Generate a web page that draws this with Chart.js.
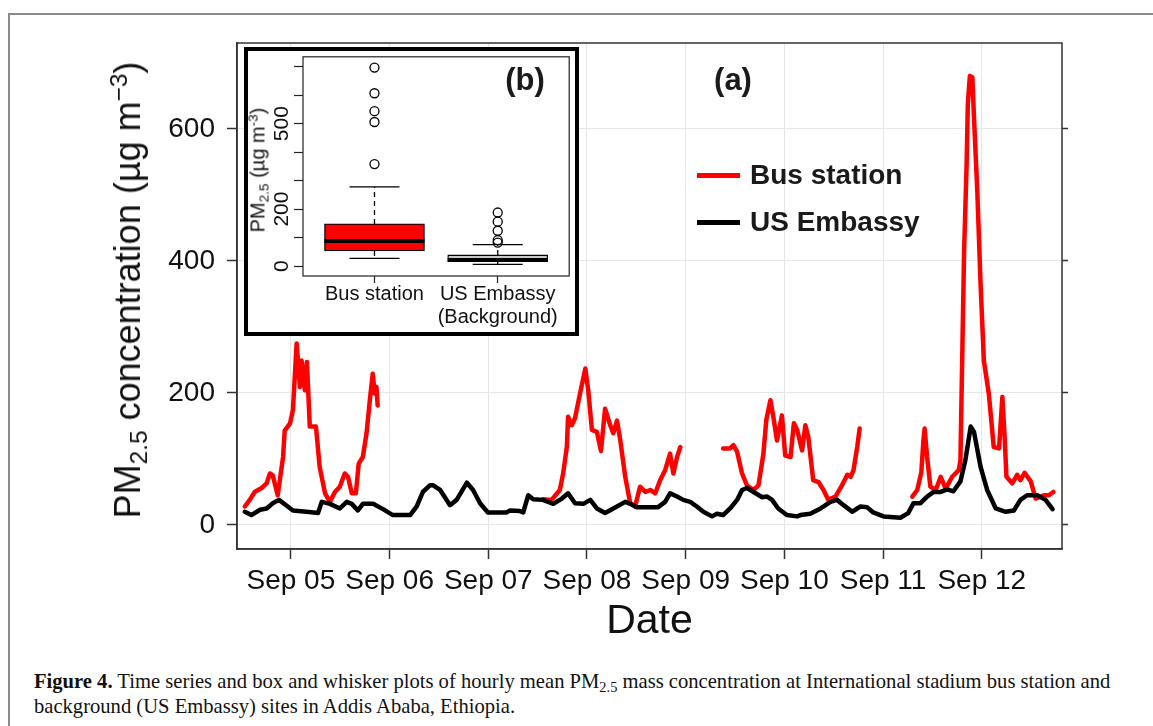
<!DOCTYPE html>
<html>
<head>
<meta charset="utf-8">
<script src="https://cdn.jsdelivr.net/npm/chart.js@4.4.0/dist/chart.umd.min.js"></script>
<style>
  html, body { margin: 0; padding: 0; background: #fff; }
  body { width: 1153px; height: 726px; position: relative; overflow: hidden; font-family: "Liberation Sans", Arial, sans-serif; color: #111; }
  .frame { position: absolute; left: 8px; top: 13px; width: 1300px; height: 900px; border-left: 2px solid #8a8a8a; border-top: 2px solid #8a8a8a; }
  #main { position: absolute; left: 0; top: 0; }
  .rot { position: absolute; transform: translate(-50%, -50%) rotate(-90deg); white-space: nowrap; }
  .sub { font-size: 0.68em; position: relative; top: 0.28em; }
  .sup { font-size: 0.68em; position: relative; top: -0.55em; }
  .tag { position: absolute; transform: translate(-50%, -50%); font-weight: bold; font-size: 31px; color: #1a1a1a; }
  .leg { position: absolute; left: 697px; height: 30px; display: flex; align-items: center; font-weight: bold; font-size: 28px; color: #1a1a1a; }
  .leg i { display: inline-block; width: 43px; height: 5px; margin-right: 10px; }
  .inset { position: absolute; left: 244px; top: 47px; width: 335px; height: 289px; box-sizing: border-box; border: 4px solid #000; background: #fff; }
  .cap { position: absolute; left: 34px; top: 670px; font-family: "Liberation Serif", "Times New Roman", serif; font-size: 20.6px; line-height: 23px; color: #111; white-space: nowrap; }
  .cap .sub { font-size: 0.7em; top: 0.3em; }
</style>
</head>
<body>
<div class="frame"></div>
<canvas id="main" width="1153" height="660"></canvas>

<div class="rot" style="left:128px; top:290px; font-size:36px;">PM<span class="sub">2.5</span> concentration (µg m<span class="sup">−3</span>)</div>

<div class="tag" style="left:733px; top:80px;">(a)</div>
<div class="leg" style="top:160px;"><i style="background:#ff0000"></i>Bus station</div>
<div class="leg" style="top:207px;"><i style="background:#000"></i>US Embassy</div>

<div class="inset"><canvas id="inset" width="327" height="281"></canvas></div>
<div class="rot" style="left:258px; top:170px; font-size:20px;">PM<span class="sub">2.5</span> (µg m<span class="sup">-3</span>)</div>
<div class="tag" style="left:525px; top:80px;">(b)</div>

<div class="cap"><b>Figure 4.</b> Time series and box and whisker plots of hourly mean PM<span class="sub">2.5</span> mass concentration at International stadium bus station and<br>background (US Embassy) sites in Addis Ababa, Ethiopia.</div>

<script>
// hours counted from Sep 05 00:00
const dayTicks = [0, 24, 48, 72, 96, 120, 144, 168];
const dayLabels = ["Sep 05", "Sep 06", "Sep 07", "Sep 08", "Sep 09", "Sep 10", "Sep 11", "Sep 12"];
const yTicks = [0, 200, 400, 600];

// bus station (null = missing hours)
const busHours = [
  -11.2, -10.0, -8.8, -7.1, -5.9, -5.1, -4.4, -3.2, -1.9, -1.5, -0.2, 0.5, 1.4, 2.2, 2.6, 3.4, 3.9, 4.6, 6.1, 7.0,
  8.3, 9.5, 10.7, 11.9, 13.1, 13.9, 14.8, 15.8, 16.5, 17.5, 18.4, 19.2, 19.9, 20.4, 20.8, 21.1, 21.6,
  61.3, 63.4, 65.4, 66.2, 67.1, 67.4, 68.3, 69.1, 70.3, 71.6, 72.3, 73.2, 74.4, 75.4, 76.4, 77.6, 78.4, 79.3, 80.1,
  81.3, 82.5, 83.7, 84.9, 86.2, 87.4, 88.6, 89.8, 91.0, 92.2, 93.0, 93.9, 94.7, 95.2,
  105.1, 106.8, 107.6, 108.5, 109.7, 110.9, 112.5, 113.7, 114.9, 115.6, 116.6, 117.3, 118.2, 119.4, 120.2,
  121.5, 122.3, 123.1, 124.3, 125.1, 125.8, 127.0, 128.3, 129.5, 130.7, 132.4, 134.0, 135.3, 136.1, 136.8, 137.7, 138.3, 138.8,
  151.1, 152.3, 153.3, 153.8, 154.1, 154.7, 155.5, 156.8, 158.0, 159.2, 160.8, 162.4, 162.8, 163.3, 163.7,
  164.3, 164.6, 165.1, 165.7, 166.1, 166.9, 167.7, 168.5, 169.7, 170.9, 172.2, 173.0, 173.5, 174.0, 175.4,
  176.6, 177.4, 178.4, 179.9, 181.1, 183.1, 184.3, 185.4
];
const busValues = [
  28, 38, 50, 56, 63, 78, 75, 45, 103, 143, 154, 174, 275, 209, 249, 204, 247, 149, 149, 88,
  48, 35, 50, 58, 78, 73, 48, 48, 93, 103, 139, 189, 229, 199, 209, 181, null,
  39, 38, 53, 78, 118, 164, 151, 162, 199, 237, 204, 144, 141, 112, 176, 152, 139, 158, 128,
  73, 33, 28, 58, 50, 53, 48, 68, 83, 108, 78, 103, 118, null,
  116, 116, 121, 111, 78, 60, 53, 60, 108, 159, 189, 164, 128, 166, 105,
  103, 154, 144, 113, 151, 134, 68, 65, 53, 38, 43, 60, 76, 73, 83, 118, 146, null,
  43, 53, 80, 128, 146, 103, 58, 53, 73, 55, 73, 83, 98, 275, 416,
  544, 637, 680, 678, 617, 506, 365, 249, 199, 118, 116, 194, 139, 73, 63,
  76, 68, 79, 66, 40, 45, 45, 50
];

// US Embassy
const embHours = [
  -11.2, -9.6, -7.5, -5.9, -4.4, -2.9, -1.0, 0.5, 3.8, 6.6, 7.5, 9.5, 11.9, 13.6, 14.8, 16.3, 17.5, 20.0, 22.4, 24.8,
  29.0, 30.6, 32.1, 33.8, 34.6, 36.3, 38.7, 40.3, 42.8, 44.3, 46.0, 47.9, 52.5, 53.3, 55.7, 56.5, 57.7, 58.9, 61.3, 63.8,
  65.9, 67.4, 69.1, 71.1, 72.8, 74.4, 76.4, 78.4, 81.3, 82.5, 84.1, 89.3, 91.0, 92.2, 93.9, 95.4, 97.1, 98.7, 100.3, 102.4,
  103.6, 105.1, 106.8, 108.5, 109.7, 110.9, 112.5, 114.6, 115.8, 117.0, 118.5, 120.6, 123.1, 123.9, 126.3,
  128.8, 131.2, 132.8, 134.4, 136.5, 138.5, 140.1, 141.6, 144.1, 148.2, 150.1, 151.4, 153.1, 154.7, 156.3,
  158.0, 159.6, 161.1, 162.8, 164.0, 165.3, 166.1, 167.7, 169.3, 171.4, 173.8, 175.8, 177.4, 179.0, 181.5, 183.5, 185.2
];
const embValues = [
  20, 15, 23, 25, 33, 38, 29, 22, 20, 18, 35, 32, 25, 35, 32, 22, 32, 32, 24, 15,
  15, 28, 50, 60, 60, 53, 30, 38, 64, 53, 33, 19, 19, 22, 21, 19, 45, 39, 38, 32,
  40, 48, 33, 32, 38, 25, 18, 25, 35, 32, 27, 27, 35, 48, 43, 38, 35, 28, 20, 13,
  17, 15, 25, 38, 53, 56, 50, 42, 43, 38, 25, 15, 13, 15, 17,
  25, 35, 38, 30, 20, 28, 27, 19, 13, 11, 18, 33, 33, 43, 50,
  50, 54, 51, 66, 98, 149, 141, 88, 53, 25, 20, 22, 38, 45, 45, 38, 24
];

// inset box plot (b)
const boxPos = [1, 2];
const boxLabels = ["Bus station", ["US Embassy", "(Background)"]];
const boxLower = [27, 6];
const boxQ1 = [53, 15];
const boxMedian = [88, 21];
const boxQ3 = [148, 39];
const boxUpper = [278, 75];
const busOutliers = [697, 607, 544, 506, 358];
const embOutliers = [188, 156, 124, 91, 82];
const insetTicks = [0, 100, 200, 300, 400, 500, 600, 700];
const insetTickLabels = [0, 200, 500];

const frameBox = {
  id: "frameBox",
  afterDraw(chart, args, opts) {
    const a = chart.chartArea, ctx = chart.ctx;
    ctx.save();
    ctx.strokeStyle = opts.color || "#333";
    ctx.lineWidth = opts.width || 1.5;
    ctx.strokeRect(a.left, a.top, a.right - a.left, a.bottom - a.top);
    ctx.restore();
  }
};

// fixed axis sizes so the plot areas land where the figure has them
const fixSize = (w, h) => (s) => {
  if (w != null) s.width = w;
  if (h != null) s.height = h;
  s.paddingLeft = s.paddingRight = s.paddingTop = s.paddingBottom = 0;
};

const series = (hs, vs) => hs.map((h, i) => ({ x: h, y: vs[i] }));

new Chart(document.getElementById("main"), {
  type: "line",
  data: {
    datasets: [
      {
        label: "US Embassy",
        data: series(embHours, embValues),
        borderColor: "#000",
        borderWidth: 4.5,
        pointRadius: 0,
        borderJoinStyle: "round",
        borderCapStyle: "round",
        order: 1,
      },
      {
        label: "Bus station",
        data: series(busHours, busValues),
        borderColor: "#ff0000",
        borderWidth: 4.5,
        pointRadius: 0,
        borderJoinStyle: "round",
        borderCapStyle: "round",
        spanGaps: false,
        order: 2,
      },
    ],
  },
  options: {
    responsive: false,
    animation: false,
    events: [],
    layout: { padding: { left: 0, top: 43, right: 81, bottom: 0 } },
    plugins: { legend: { display: false }, tooltip: { enabled: false }, frameBox: { color: "#333", width: 1.5 } },
    scales: {
      x: {
        type: "linear",
        min: -13.1,
        max: 187.5,
        afterBuildTicks: (s) => { s.ticks = dayTicks.map((v) => ({ value: v })); },
        afterFit: fixSize(null, 111),
        ticks: {
          callback: (v, i) => dayLabels[i],
          font: { size: 28, family: "Liberation Sans" },
          color: "#111",
          padding: 5,
          maxRotation: 0,
          autoSkip: false,
        },
        grid: { color: "#e6e6e6", lineWidth: 1, tickColor: "#333", tickLength: 10, tickWidth: 1.5 },
        border: { color: "#333", width: 1.5 },
        title: { display: true, text: "Date", font: { size: 41, family: "Liberation Sans" }, color: "#111", padding: { top: 0, bottom: 14 } },
      },
      y: {
        min: -36.4,
        max: 730,
        afterBuildTicks: (s) => { s.ticks = yTicks.map((v) => ({ value: v })); },
        afterFit: fixSize(237, null),
        ticks: { font: { size: 28, family: "Liberation Sans" }, color: "#111", padding: 12 },
        grid: { color: "#e6e6e6", lineWidth: 1, tickColor: "#333", tickLength: 10, tickWidth: 1.5 },
        border: { color: "#333", width: 1.5 },
      },
      yR: {
        position: "right",
        min: -36.4,
        max: 730,
        afterBuildTicks: (s) => { s.ticks = yTicks.map((v) => ({ value: v })); },
        afterFit: fixSize(10, null),
        ticks: { callback: () => "", padding: 0 },
        grid: { drawOnChartArea: false, tickColor: "#333", tickLength: 6, tickWidth: 1.5 },
        border: { display: false },
      },
    },
  },
  plugins: [frameBox],
});

// whiskers, caps and medians for the inset
const whiskers = {
  id: "whiskers",
  afterDatasetsDraw(chart) {
    const ctx = chart.ctx, xs = chart.scales.x, ys = chart.scales.y;
    ctx.save();
    ctx.strokeStyle = "#000";
    boxPos.forEach((p, i) => {
      const cx = xs.getPixelForValue(p);
      ctx.lineWidth = 1.3;
      ctx.setLineDash([5, 4]);
      ctx.beginPath();
      ctx.moveTo(cx, ys.getPixelForValue(boxQ3[i]));
      ctx.lineTo(cx, ys.getPixelForValue(boxUpper[i]));
      ctx.moveTo(cx, ys.getPixelForValue(boxQ1[i]));
      ctx.lineTo(cx, ys.getPixelForValue(boxLower[i]));
      ctx.stroke();
      ctx.setLineDash([]);
      ctx.beginPath();
      [boxUpper[i], boxLower[i]].forEach((v) => {
        ctx.moveTo(cx - 25, ys.getPixelForValue(v));
        ctx.lineTo(cx + 25, ys.getPixelForValue(v));
      });
      ctx.stroke();
      ctx.lineWidth = 4;
      ctx.beginPath();
      ctx.moveTo(cx - 50, ys.getPixelForValue(boxMedian[i]));
      ctx.lineTo(cx + 50, ys.getPixelForValue(boxMedian[i]));
      ctx.stroke();
    });
    ctx.restore();
  }
};

const outlierPts = busOutliers.map((v) => ({ x: boxPos[0], y: v }))
  .concat(embOutliers.map((v) => ({ x: boxPos[1], y: v })));

new Chart(document.getElementById("inset"), {
  type: "bar",
  data: {
    datasets: [
      {
        type: "line",
        label: "outliers",
        data: outlierPts,
        showLine: false,
        pointRadius: 4.5,
        pointBorderWidth: 1.3,
        pointBorderColor: "#000",
        pointBackgroundColor: "rgba(255,255,255,0)",
      },
      {
        type: "bar",
        label: "boxes",
        data: boxPos.map((p, i) => ({ x: p, y: [boxQ1[i], boxQ3[i]] })),
        backgroundColor: ["#ff0000", "#c8c8c8"],
        borderColor: "#000",
        borderWidth: 1.3,
        borderSkipped: false,
        barThickness: 100,
        grouped: false,
      },
    ],
  },
  options: {
    responsive: false,
    animation: false,
    events: [],
    layout: { padding: { left: 0, top: 4, right: 3, bottom: 0 } },
    plugins: { legend: { display: false }, tooltip: { enabled: false }, frameBox: { color: "#222", width: 1.2 } },
    scales: {
      x: {
        type: "linear",
        offset: false,
        min: 0.42,
        max: 2.58,
        afterBuildTicks: (s) => { s.ticks = boxPos.map((v) => ({ value: v })); },
        afterFit: fixSize(null, 56),
        ticks: {
          callback: (v, i) => boxLabels[i],
          font: { size: 20, family: "Liberation Sans", lineHeight: 1.15 },
          color: "#111",
          padding: 0,
          maxRotation: 0,
          autoSkip: false,
        },
        grid: { drawOnChartArea: false, tickColor: "#222", tickLength: 7, tickWidth: 1.2, offset: false },
        border: { display: false },
      },
      y: {
        min: -35,
        max: 735,
        afterBuildTicks: (s) => { s.ticks = insetTicks.map((v) => ({ value: v })); },
        afterFit: fixSize(55, null),
        ticks: {
          callback: (v) => (insetTickLabels.includes(v) ? String(v) : ""),
          font: { size: 21, family: "Liberation Sans" },
          color: "#111",
          padding: -6,
          minRotation: 90,
          maxRotation: 90,
          crossAlign: "center",
          autoSkip: false,
        },
        grid: { drawOnChartArea: false, tickColor: "#222", tickLength: 9, tickWidth: 1.2 },
        border: { display: false },
      },
    },
  },
  plugins: [frameBox, whiskers],
});
</script>
</body>
</html>
